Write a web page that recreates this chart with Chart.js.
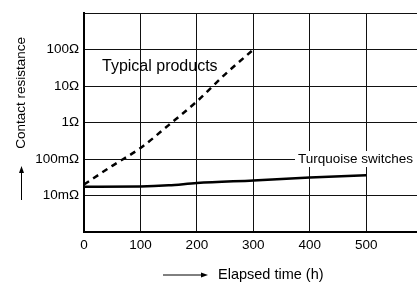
<!DOCTYPE html>
<html>
<head>
<meta charset="utf-8">
<script src="https://cdn.jsdelivr.net/npm/chart.js@4/dist/chart.umd.min.js"></script>
<style>
  html, body { margin: 0; padding: 0; background: #fff; }
  #wrap { width: 417px; height: 289px; }
</style>
</head>
<body>
<div id="wrap"><canvas id="chartCanvas" width="417" height="289"></canvas></div>
<script>
// elapsed time (h) and contact resistance (ohm)
const typicalHours = [0, 50, 100, 150, 200, 250, 300];
const typicalOhm = [0.02, 0.065, 0.2, 0.85, 3.8, 21, 100];

const turquoiseHours = [0, 100, 150, 200, 300, 400, 500];
const turquoiseOhm = [0.0174, 0.0177, 0.019, 0.022, 0.026, 0.031, 0.036];

const xTicks = [0, 100, 200, 300, 400, 500];
const yTicks = [0.001, 0.01, 0.1, 1, 10, 100, 1000];
const yTickLabels = { 0.01: '10mΩ', 0.1: '100mΩ', 1: '1Ω', 10: '10Ω', 100: '100Ω' };

const FONT = 'Liberation Sans, Arial, Helvetica, sans-serif';

function toPoints(xs, ys) {
    return xs.map((x, i) => ({ x: x, y: ys[i] }));
}

// axis titles with arrows + label boxes
const annotations = {
    id: 'annotations',
    afterDraw(chart) {
        const ctx = chart.ctx;
        ctx.save();
        ctx.fillStyle = '#000';
        ctx.strokeStyle = '#000';

        // x title
        ctx.font = '14.5px ' + FONT;
        ctx.textBaseline = 'middle';
        ctx.textAlign = 'left';
        ctx.fillText('Elapsed time (h)', 218, 275);
        ctx.lineWidth = 1;
        ctx.beginPath();
        ctx.moveTo(163, 275); ctx.lineTo(203, 275); ctx.stroke();
        ctx.beginPath();
        ctx.moveTo(208, 275); ctx.lineTo(201, 272.5); ctx.lineTo(201, 277.5); ctx.closePath(); ctx.fill();

        // y title
        ctx.font = '13.5px ' + FONT;
        ctx.save();
        ctx.translate(21.5, 0);
        ctx.rotate(-Math.PI / 2);
        ctx.textAlign = 'right';
        ctx.fillText('Contact resistance', -37, 0);
        ctx.restore();
        ctx.beginPath();
        ctx.moveTo(21.5, 200); ctx.lineTo(21.5, 171); ctx.stroke();
        ctx.beginPath();
        ctx.moveTo(21.5, 166); ctx.lineTo(19, 173); ctx.lineTo(24, 173); ctx.closePath(); ctx.fill();

        // series labels
        ctx.font = '16px ' + FONT;
        ctx.textAlign = 'left';
        ctx.fillText('Typical products', 102, 66.5);

        ctx.font = '13.5px ' + FONT;
        const lbl = 'Turquoise switches';
        const w = ctx.measureText(lbl).width;
        ctx.fillStyle = '#fff';
        ctx.fillRect(295, 151, w + 8, 16);
        ctx.fillStyle = '#000';
        ctx.fillText(lbl, 298, 159.5);
        ctx.restore();
    }
};

const ctx = document.getElementById('chartCanvas').getContext('2d');
const chart = new Chart(ctx, {
    type: 'scatter',
    data: {
        datasets: [
            {
                label: 'Typical products',
                data: toPoints(typicalHours, typicalOhm),
                showLine: true,
                borderColor: '#000',
                borderWidth: 2.5,
                borderDash: [6, 5],
                pointRadius: 0,
                cubicInterpolationMode: 'monotone',
                fill: false
            },
            {
                label: 'Turquoise switches',
                data: toPoints(turquoiseHours, turquoiseOhm),
                showLine: true,
                borderColor: '#000',
                borderWidth: 2.5,
                pointRadius: 0,
                cubicInterpolationMode: 'monotone',
                fill: false
            }
        ]
    },
    options: {
        responsive: false,
        animation: false,
        layout: { padding: { top: 7, right: 0, left: 0, bottom: 0 } },
        plugins: {
            legend: { display: false },
            tooltip: { enabled: false }
        },
        scales: {
            x: {
                type: 'linear',
                min: 0,
                max: 590,
                afterBuildTicks: (scale) => { scale.ticks = xTicks.map(v => ({ value: v })); },
                afterFit: (scale) => { scale.height = 57; },
                grid: { color: '#111', lineWidth: 1, drawTicks: false },
                border: { color: '#000', width: 2 },
                ticks: {
                    padding: 5,
                    color: '#000',
                    font: { family: FONT, size: 13.5 },
                    maxRotation: 0,
                    callback: (v) => String(v)
                }
            },
            y: {
                type: 'logarithmic',
                min: 0.001,
                max: 1000,
                afterBuildTicks: (scale) => { scale.ticks = yTicks.map(v => ({ value: v })); },
                afterFit: (scale) => { scale.width = 84; },
                grid: { color: '#111', lineWidth: 1, drawTicks: false },
                border: { color: '#000', width: 2 },
                ticks: {
                    padding: 5,
                    color: '#000',
                    font: { family: FONT, size: 13.5 },
                    callback: (v) => yTickLabels[v] || ''
                }
            }
        }
    },
    plugins: [annotations]
});
</script>
</body>
</html>
